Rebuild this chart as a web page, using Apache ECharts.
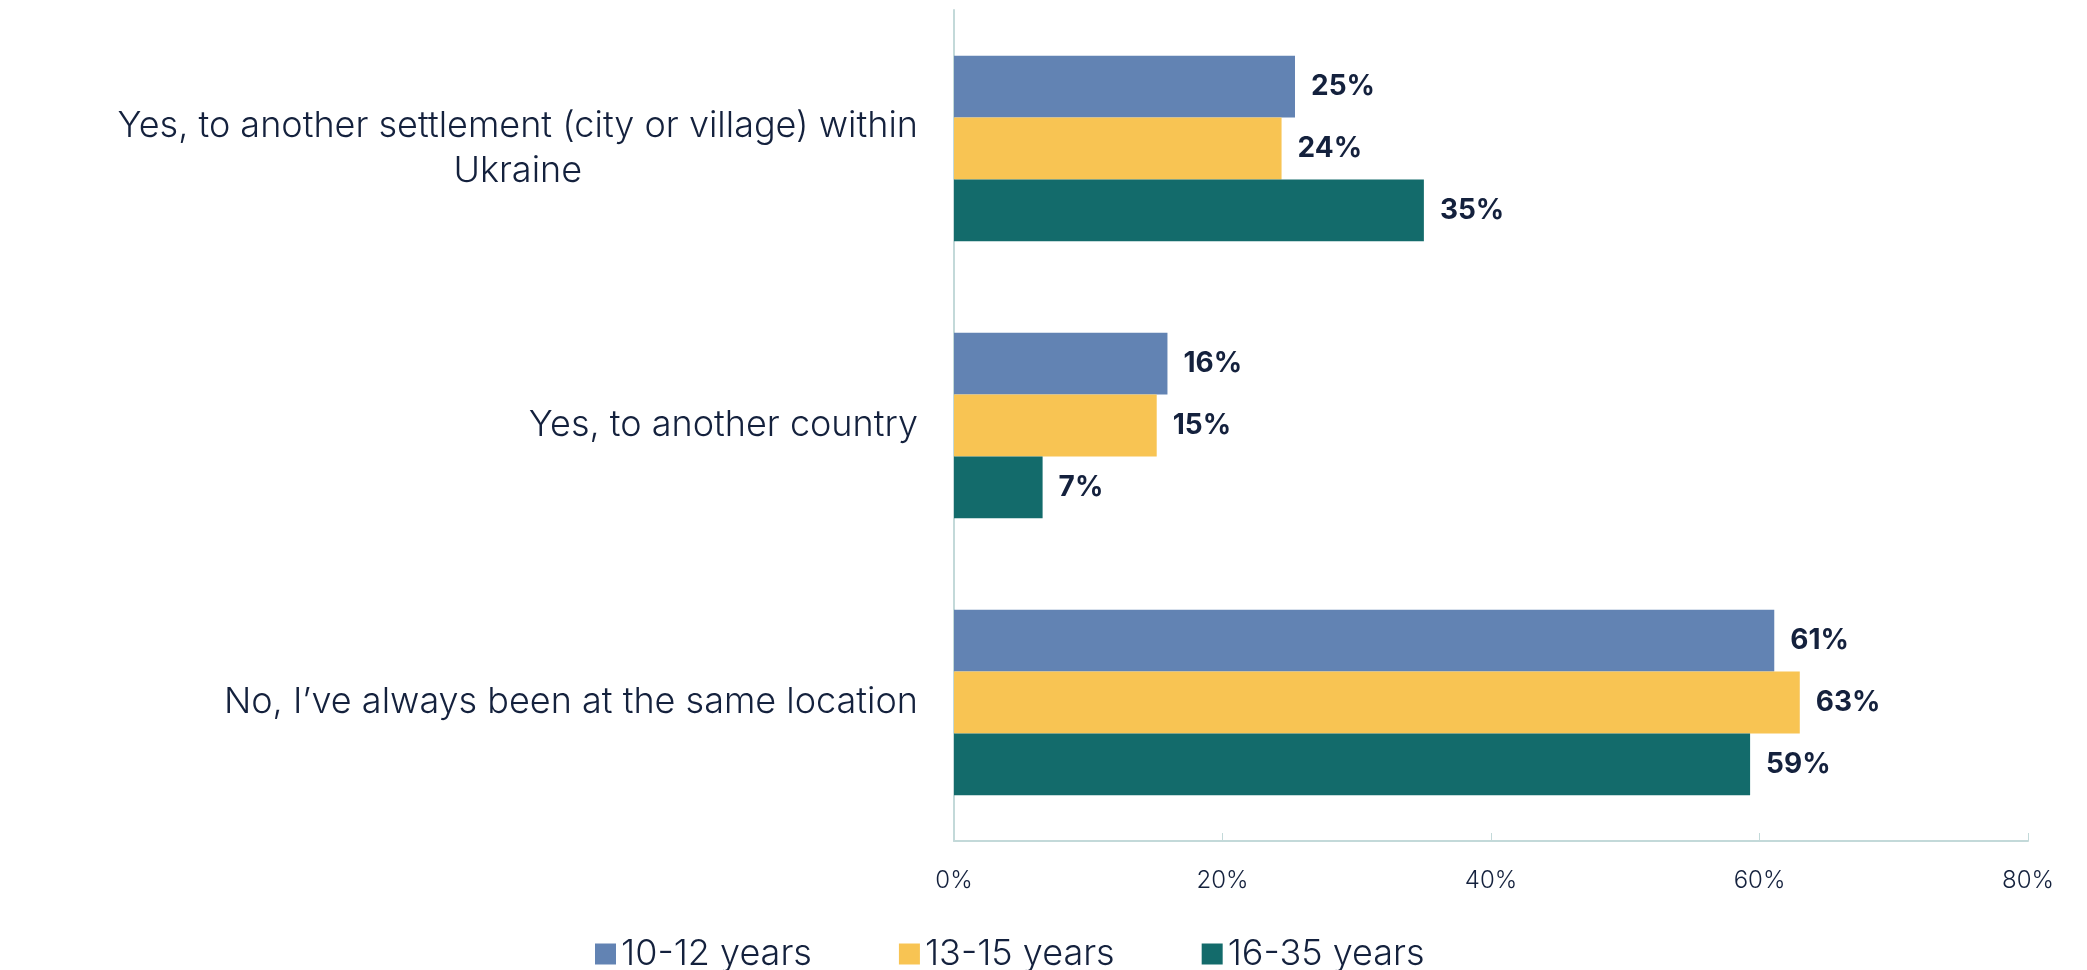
<!DOCTYPE html>
<html>
<head>
<meta charset="utf-8">
<script src="https://cdn.jsdelivr.net/npm/echarts@6/dist/echarts.min.js"></script>
<style>
  html, body { margin: 0; padding: 0; background: #fff; }
  #chart { width: 2087px; height: 970px; }
</style>
</head>
<body>
<div id="chart"></div>
<script>
// answers (top to bottom)
var categories = [
  'Yes, to another settlement (city or village) within\nUkraine',
  'Yes, to another country',
  'No, I\u2019ve always been at the same location'
]
var seriesNames = ['10-12 years', '13-15 years', '16-35 years']
var age10to12 = [25.4, 15.9, 61.1]
var age13to15 = [24.4, 15.1, 63.0]
var age16to35 = [35.0, 6.6, 59.3]
var xTicks = [0, 20, 40, 60, 80]

var colors = ['#6283b3', '#f8c453', '#136b6b']
var textColor = '#14213d'
var fontFam = 'Inter, "Open Sans", sans-serif'

var chart = echarts.init(document.getElementById('chart'))

function makeSeries(name, data, color) {
    return {
        name: name,
        type: 'bar',
        data: data,
        barGap: '0%',
        barCategoryGap: '33%',
        itemStyle: { color: color },
        label: {
            show: true,
            position: 'right',
            distance: 16,
            color: textColor,
            fontFamily: fontFam,
            fontWeight: 'bold',
            fontSize: 28,
            formatter: function(p) {
                return Math.round(p.value) + '%'
            }
        }
    }
}

var option = {
    animation: false,
    color: colors,
    grid: {
        left: 954,
        right: 59,
        top: 10,
        bottom: 129,
        containLabel: false
    },
    legend: {
        left: 590,
        top: 931,
        itemWidth: 21,
        itemHeight: 21,
        itemGap: 87,
        icon: 'rect',
        textStyle: {
            color: textColor,
            fontFamily: fontFam,
            fontWeight: 300,
            fontSize: 36
        },
        data: seriesNames
    },
    xAxis: {
        type: 'value',
        min: xTicks[0],
        max: xTicks[xTicks.length - 1],
        interval: 20,
        splitLine: { show: false },
        axisLine: { show: true, lineStyle: { color: '#c3d9d9', width: 2 } },
        axisTick: { show: true, inside: true, length: 8, lineStyle: { color: '#c3d9d9', width: 1 } },
        axisLabel: {
            margin: 28,
            color: textColor,
            fontFamily: fontFam,
            fontWeight: 300,
            fontSize: 24,
            formatter: '{value}%'
        }
    },
    yAxis: {
        type: 'category',
        inverse: true,
        data: categories,
        axisLine: { show: true, lineStyle: { color: '#c3d9d9', width: 2 } },
        axisTick: { show: false },
        axisLabel: {
            margin: 36,
            align: 'right',
            fontFamily: fontFam,
            formatter: function(v) {
                return v.split('\n').map(function(s) { return '{c|' + s + '}' }).join('\n')
            },
            rich: {
                c: {
                    align: 'center',
                    color: textColor,
                    fontFamily: fontFam,
                    fontWeight: 300,
                    fontSize: 36,
                    lineHeight: 45
                }
            }
        }
    },
    series: [
        makeSeries(seriesNames[0], age10to12, colors[0]),
        makeSeries(seriesNames[1], age13to15, colors[1]),
        makeSeries(seriesNames[2], age16to35, colors[2])
    ]
}

chart.setOption(option)
window.addEventListener('resize', function() {
    chart.resize()
})
</script>
</body>
</html>
